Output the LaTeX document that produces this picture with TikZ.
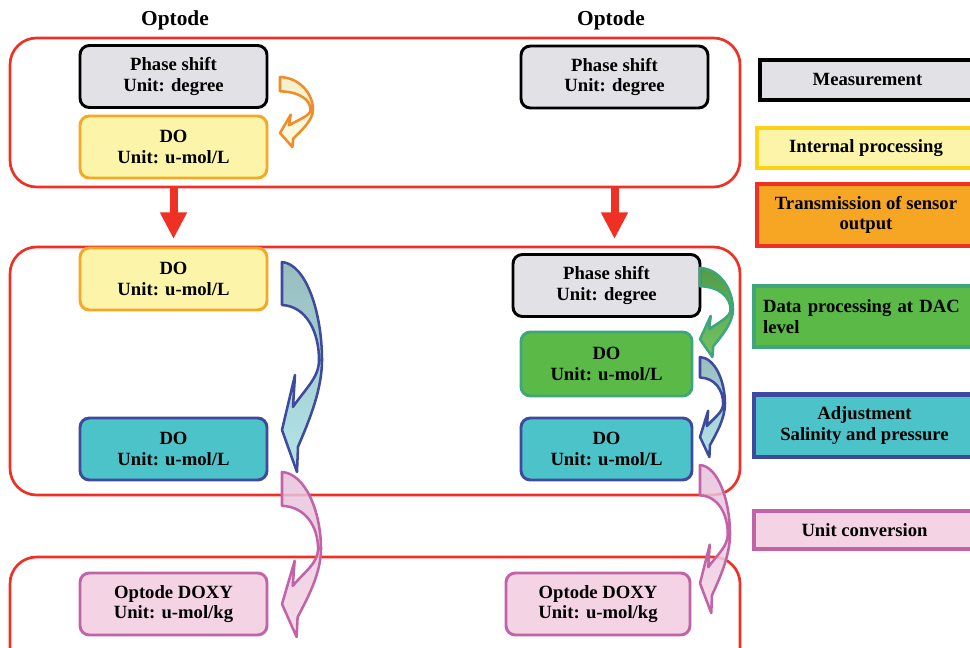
\documentclass[tikz,border=0pt]{standalone}
\usepackage{fontspec}
\setmainfont{Liberation Serif}
\usetikzlibrary{arrows.meta,positioning,fit}
\definecolor{cRed}{HTML}{EE3124}
\definecolor{cMeasFill}{HTML}{E2E2E6}
\definecolor{cIntFill}{HTML}{FCF5A9}
\definecolor{cIntDraw}{HTML}{F7A823}
\definecolor{cKeyYel}{HTML}{FCD116}
\definecolor{cTransFill}{HTML}{F6A623}
\definecolor{cDacFill}{HTML}{5BB947}
\definecolor{cDacDraw}{HTML}{3FA67A}
\definecolor{cAdjFill}{HTML}{4CC3C9}
\definecolor{cAdjDraw}{HTML}{3E4A9E}
\definecolor{cConvFill}{HTML}{F4D4E4}
\definecolor{cConvDraw}{HTML}{C263A8}
\definecolor{cArrOrange}{HTML}{F28C28}
% bent block arrow: x, y, w, h, top colour, bottom colour, border
\newcommand{\bendarrow}[7]{%
  \begin{scope}[shift={(#1,#2)},xscale=#3,yscale=#4]
    \path[draw=#7,top color=#5,bottom color=#6,line width=1.9pt,line join=round,fill opacity=0.85]
      (0,0) .. controls (0.6,0.01) and (1,0.24) .. (1,0.467)
      .. controls (1,0.62) and (0.62,0.78) .. (0.4,0.88)
      -- (0.375,1) -- (0,0.8) -- (0.325,0.538) -- (0.275,0.69)
      .. controls (0.6,0.6) and (0.925,0.55) .. (0.925,0.467)
      .. controls (0.925,0.33) and (0.6,0.21) .. (0,0.205) -- cycle;
  \end{scope}}

\begin{document}
\begin{tikzpicture}[x=0.75pt,y=-0.75pt,
  every node/.style={font=\fontsize{14}{15.5}\selectfont\bfseries},
  box/.style={rounded corners=7pt, draw, align=center, line width=2.2pt, minimum width=140.25pt, minimum height=46.5pt, inner sep=2pt},
  meas/.style={fill=cMeasFill, draw=black},
  internal/.style={fill=cIntFill, draw=cIntDraw},
  dac/.style={fill=cDacFill, draw=cDacDraw},
  adj/.style={fill=cAdjFill, draw=cAdjDraw},
  conv/.style={fill=cConvFill, draw=cConvDraw},
  stagebox/.style={draw=cRed, line width=2pt, rounded corners=20pt, inner sep=0pt},
  trans/.style={-{Triangle[width=19pt,length=20pt]}, line width=6pt, draw=cRed, shorten >=5pt},
  keybox/.style={draw, line width=3.5pt, align=center, inner sep=2pt},
  headline/.style={font=\fontsize{16}{18}\selectfont\bfseries}
]
\useasboundingbox (0,0) rectangle (970,648);
\clip (0,0) rectangle (970,648);

% stages
\node[stagebox, fit={(10,38) (740,187)}] (stage1) {};
\node[stagebox, fit={(10,247) (740,495)}] (stage2) {};
\node[stagebox, fit={(10,557) (740,720)}] (stage3) {};

\node[headline] (optL) at (175,20) {Optode};
\node[headline] (optR) at (611,20) {Optode};

% left column
\node[box,meas] (ps1) at (173.5,76.5) {Phase shift\\Unit: degree};
\node[box,internal] (do1) at (173.5,147) {DO\\Unit: u-mol/L};
\node[box,internal] (do2) at (173.5,279) {DO\\Unit: u-mol/L};
\node[box,adj] (do3) at (173.5,449) {DO\\Unit: u-mol/L};
\node[box,conv] (doxyL) at (173.5,604) {Optode DOXY\\Unit: u-mol/kg};

% right column
\node[box,meas] (ps2) at (614.5,77) {Phase shift\\Unit: degree};
\node[box,meas] (ps3) at (606.5,285.5) {Phase shift\\Unit: degree};
\node[box,dac,minimum width=128.25pt,minimum height=48pt] (do4) at (606.5,364) {DO\\Unit: u-mol/L};
\node[box,adj,minimum width=128.25pt] (do5) at (606.5,449) {DO\\Unit: u-mol/L};
\node[box,conv,minimum width=138pt] (doxyR) at (598,604) {Optode DOXY\\Unit: u-mol/kg};

\draw[trans] (do1.south |- stage1.south) -- (do1.south |- stage2.north);
\draw[trans] (ps2.south |- stage1.south) -- (ps2.south |- stage2.north);

\bendarrow{280}{77}{33}{70}{cIntFill!60!cMeasFill}{cIntFill!40}{cArrOrange}
\bendarrow{282}{262}{40}{210}{cAdjFill!45!gray!80}{cAdjFill!50}{cAdjDraw}
\bendarrow{282}{472}{39}{165}{cConvDraw!40}{cConvFill}{cConvDraw}
\bendarrow{700}{268}{33}{89}{cDacFill!80!green!70!black}{cDacFill}{cDacDraw}
\bendarrow{700}{357}{25}{100}{cAdjFill!45!gray!80}{cAdjFill!50}{cAdjDraw}
\bendarrow{700}{465}{30}{148}{cConvDraw!40}{cConvFill}{cConvDraw}

% key
\node[keybox,fill=cMeasFill,draw=black,minimum width=161.25pt,minimum height=30pt] (kMeas) at (867.5,80) {Measurement};
\node[keybox,fill=cIntFill,draw=cKeyYel,minimum width=163.5pt,minimum height=30pt] (kInt) at (866,148) {Internal processing};
\node[keybox,fill=cTransFill,draw=cRed,minimum width=163.5pt,minimum height=46.5pt] (kTrans) at (866,215) {Transmission of sensor\\output};
\node[keybox,fill=cDacFill,draw=cDacDraw,minimum width=165.75pt,minimum height=45.75pt,align=left,text width=152pt] (kDac) at (864.5,316.5) {Data processing at DAC\\level};
\node[keybox,fill=cAdjFill,draw=cAdjDraw,minimum width=165.75pt,minimum height=47pt] (kAdj) at (864.5,425.5) {Adjustment\\Salinity and pressure};
\node[keybox,fill=cConvFill,draw=cConvDraw,minimum width=165.75pt,minimum height=28.5pt] (kConv) at (864.5,530) {Unit conversion};
\end{tikzpicture}
\end{document}
